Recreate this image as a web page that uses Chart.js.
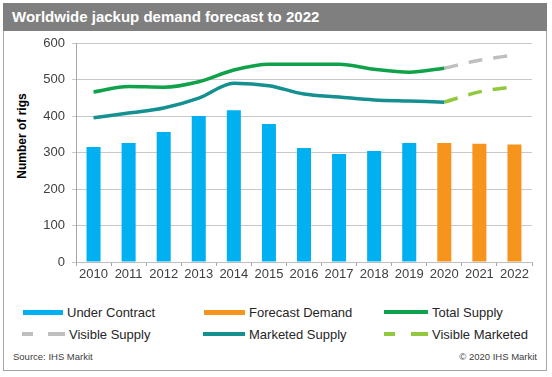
<!DOCTYPE html>
<html>
<head>
<meta charset="utf-8">
<script src="https://cdn.jsdelivr.net/npm/chart.js@4.4.1/dist/chart.umd.min.js"></script>
<style>
  body { margin: 0; background: #fff; font-family: 'Liberation Sans', Arial, sans-serif; }
  #wrap { position: relative; width: 552px; height: 377px; overflow: hidden; }
  #box { position: absolute; left: 3px; top: 3px; width: 542px; height: 366px; border: 1px solid #a6a6a6; box-sizing: content-box; }
  #title { position: absolute; left: 3px; top: 3px; width: 544px; height: 28px; background: #7f7f7f; color: #fff;
           font: bold 15px 'Liberation Sans', Arial, sans-serif; line-height: 28px; padding-left: 9px; box-sizing: border-box; }
  #chart { position: absolute; left: 0; top: 0; z-index: 2; }
  #ytitle { position: absolute; left: 22px; top: 136px; transform: translate(-50%, -50%) rotate(-90deg);
            font: bold 12px 'Liberation Sans', Arial, sans-serif; color: #000; white-space: nowrap; }
  .lg { position: absolute; font-size: 13px; color: #262626; white-space: nowrap; line-height: 16px; }
  .lg svg { position: absolute; top: 5px; }
  .src { position: absolute; font-size: 9.5px; color: #404040; top: 351px; }
</style>
</head>
<body>
<div id="wrap">
  <div id="box"></div>
  <div id="title">Worldwide jackup demand forecast to 2022</div>
  <canvas id="chart" width="552" height="300"></canvas>
  <div id="ytitle">Number of rigs</div>
  <div id="legend"></div>
  <div class="src" style="left:13px">Source: IHS Markit</div>
  <div class="src" style="right:15px">© 2020 IHS Markit</div>
</div>
<script>
const years = ['2010','2011','2012','2013','2014','2015','2016','2017','2018','2019','2020','2021','2022'];
const underContract   = [315, 326, 356, 400, 416, 378, 312, 296, 304, 326, null, null, null];
const forecastDemand  = [null, null, null, null, null, null, null, null, null, null, 326, 324, 322];
const totalSupply     = [466, 481, 479, 494, 526, 542, 542, 542, 528, 520, 531, null, null];
const visibleSupply   = [null, null, null, null, null, null, null, null, null, null, 531, 553, 567];
const marketedSupply  = [395, 408, 422, 449, 490, 483, 460, 452, 444, 441, 438, null, null];
const visibleMarketed = [null, null, null, null, null, null, null, null, null, null, 438, 466, 480];
const yTicks = [0, 100, 200, 300, 400, 500, 600];

const colors = {
  contract: '#00b0f0', forecast: '#f7941e', total: '#10a24b',
  visible: '#bfbfbf', marketed: '#13908f', visMarketed: '#92c83e'
};

const barDs = (label, data, color) => ({
  type: 'bar', label, data, backgroundColor: color, grouped: false,
  barPercentage: 0.4, categoryPercentage: 1, order: 2
});
const lineDs = (label, data, color, dash) => ({
  type: 'line', label, data, borderColor: color, backgroundColor: color,
  borderWidth: 3.5, borderDash: dash || [], pointRadius: 0, spanGaps: false,
  cubicInterpolationMode: 'monotone', order: 1, borderCapStyle: 'butt'
});

new Chart(document.getElementById('chart'), {
  data: {
    labels: years,
    datasets: [
      barDs('Under Contract', underContract, colors.contract),
      barDs('Forecast Demand', forecastDemand, colors.forecast),
      lineDs('Total Supply', totalSupply, colors.total),
      lineDs('Visible Supply', visibleSupply, colors.visible, [14, 11]),
      lineDs('Marketed Supply', marketedSupply, colors.marketed),
      lineDs('Visible Marketed', visibleMarketed, colors.visMarketed, [14, 11])
    ]
  },
  options: {
    responsive: false,
    animation: false,
    layout: { padding: { top: 43, right: 20, bottom: 16, left: 0 } },
    plugins: { legend: { display: false }, tooltip: { enabled: false } },
    scales: {
      x: {
        offset: true,
        grid: { display: true, drawOnChartArea: false, color: '#a6a6a6', tickLength: 4, offset: true },
        border: { color: '#bfbfbf' },
        ticks: { color: '#404040', font: { family: "'Liberation Sans', Arial, sans-serif", size: 13 }, padding: 1, maxRotation: 0 },
        afterFit: (axis) => { axis.height = 22; }
      },
      y: {
        min: 0, max: 600,
        afterBuildTicks: (axis) => { axis.ticks = yTicks.map(v => ({ value: v })); },
        grid: { color: '#c8c8c8', tickLength: 4 },
        border: { color: '#a6a6a6' },
        ticks: { color: '#404040', font: { family: "'Liberation Sans', Arial, sans-serif", size: 13 }, padding: 7 },
        afterFit: (axis) => { axis.width = 76; }
      }
    }
  }
});

// legend laid out in a 3x2 grid like the original
const legendItems = [
  { label: 'Under Contract', color: colors.contract, kind: 'bar', x: 23, y: 305, w: 40 },
  { label: 'Forecast Demand', color: colors.forecast, kind: 'bar', x: 204, y: 305, w: 41 },
  { label: 'Total Supply', color: colors.total, kind: 'line', x: 384, y: 305, w: 44 },
  { label: 'Visible Supply', color: colors.visible, kind: 'dash', x: 22, y: 327, w: 43 },
  { label: 'Marketed Supply', color: colors.marketed, kind: 'line', x: 203, y: 327, w: 42 },
  { label: 'Visible Marketed', color: colors.visMarketed, kind: 'dash', x: 384, y: 327, w: 44 }
];
const legend = document.getElementById('legend');
legendItems.forEach(it => {
  const el = document.createElement('div');
  el.className = 'lg';
  el.style.left = it.x + 'px';
  el.style.top = it.y + 'px';
  el.style.paddingLeft = (it.w + 4) + 'px';
  const h = it.kind === 'bar' ? 5 : 4;
  let shape;
  if (it.kind === 'dash') {
    shape = `<rect x="0" y="0" width="11" height="${h}" fill="${it.color}"/>` +
            `<rect x="${it.w - 17}" y="0" width="17" height="${h}" fill="${it.color}"/>`;
  } else {
    shape = `<rect x="0" y="0" width="${it.w}" height="${h}" fill="${it.color}"/>`;
  }
  el.innerHTML = `<svg width="${it.w}" height="${h}" style="left:0">${shape}</svg>${it.label}`;
  legend.appendChild(el);
});
</script>
</body>
</html>
